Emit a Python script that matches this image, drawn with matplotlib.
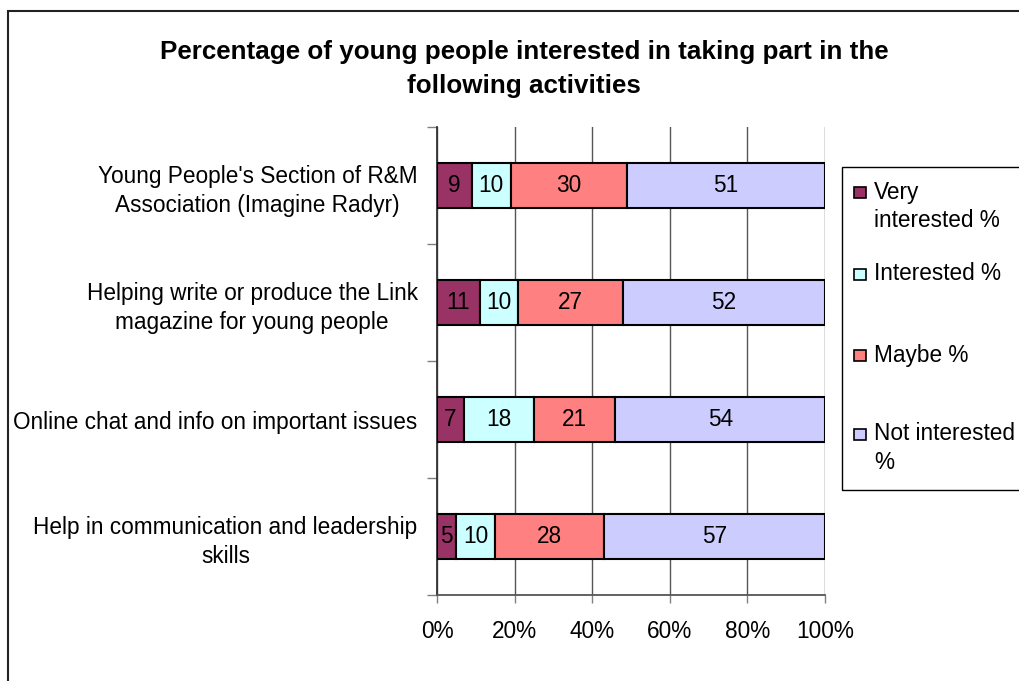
import matplotlib
matplotlib.use("Agg")
import matplotlib.pyplot as plt
from matplotlib.patches import Rectangle
import numpy as np

plt.rcParams['font.family'] = ['Liberation Sans', 'DejaVu Sans']

categories = [
    "Young People's Section of R&M\nAssociation (Imagine Radyr)",
    "Helping write or produce the Link\nmagazine for young people",
    "Online chat and info on important issues",
    "Help in communication and leadership\nskills",
]
series_names = ["Very\ninterested %", "Interested %", "Maybe %", "Not interested\n%"]
very_interested = [9, 11, 7, 5]
interested = [10, 10, 18, 10]
maybe = [30, 27, 21, 28]
not_interested = [51, 52, 54, 57]
colors = ["#993366", "#CCFFFF", "#FF8080", "#CCCCFF"]
xtick_labels = ["0%", "20%", "40%", "60%", "80%", "100%"]
title = "Percentage of young people interested in taking part in the\nfollowing activities"

W, H = 1020, 681
fig = plt.figure(figsize=(W / 100, H / 100), dpi=100)
ax = fig.add_axes([437 / W, 1 - 595 / H, (825 - 437) / W, (595 - 127) / H])

series = [very_interested, interested, maybe, not_interested]
n = len(categories)
y = np.arange(n)
left = np.zeros(n)
fs = 16.3
for vals, col in zip(series, colors):
    vals = np.array(vals, dtype=float)
    bars = ax.barh(y, vals, left=left, height=0.39, color=col,
                   edgecolor='black', linewidth=1.5, zorder=3)
    for b, v in zip(bars, vals):
        ax.text(b.get_x() + b.get_width() / 2, b.get_y() + b.get_height() / 2,
                f"{int(v)}", ha='center', va='center', fontsize=fs, zorder=4)
    left += vals

ax.set_xlim(0, 100)
ax.set_ylim(n - 0.5, -0.5)
ax.set_xticks(np.linspace(0, 100, 6))
ax.set_xticklabels(xtick_labels, fontsize=fs)
ax.set_yticks(y)
ax.set_yticklabels(categories, fontsize=fs, multialignment='center', linespacing=1.35)
ax.set_yticks(np.arange(-0.5, n, 1), minor=True)
ax.tick_params(axis='y', which='major', length=0, pad=14)
ax.tick_params(axis='y', which='minor', length=7, width=1, color='#808080', direction='out')
ax.tick_params(axis='x', which='major', length=6, width=1, color='#808080', direction='out', pad=12)

ax.grid(axis='x', color='#555555', linewidth=1, zorder=0)
ax.set_axisbelow(True)
for s in ['top', 'right']:
    ax.spines[s].set_visible(False)
ax.spines['left'].set_color('#333333')
ax.spines['bottom'].set_color('#555555')
ax.spines['left'].set_linewidth(1.3)
ax.spines['bottom'].set_linewidth(1.3)

fig.text(524 / W, 1 - 69 / H, title, ha='center', va='center', fontsize=18.7,
         fontweight='bold', linespacing=1.5)

# outer border
fig.patches.append(Rectangle((8 / W, -0.1), 1.2, 1 - 11 / H + 0.1, transform=fig.transFigure,
                             fill=False, edgecolor='#222222', linewidth=1.5))

# legend box (manual)
fig.patches.append(Rectangle((842 / W, 1 - 490 / H), 0.5, (490 - 167) / H, transform=fig.transFigure,
                             fill=False, edgecolor='black', linewidth=1.0))
marker_y = [193, 274, 355, 434]
text_y = [206.5, 273, 355, 448]
for name, col, my, ty in zip(series_names, colors, marker_y, text_y):
    fig.patches.append(Rectangle((854 / W, 1 - (my + 5.5) / H), 12 / W, 11 / H,
                                 transform=fig.transFigure, facecolor=col,
                                 edgecolor='black', linewidth=1.2))
    fig.text(874 / W, 1 - ty / H, name, ha='left', va='center', fontsize=fs,
             linespacing=1.3)

fig.savefig("out.png", dpi=100)
